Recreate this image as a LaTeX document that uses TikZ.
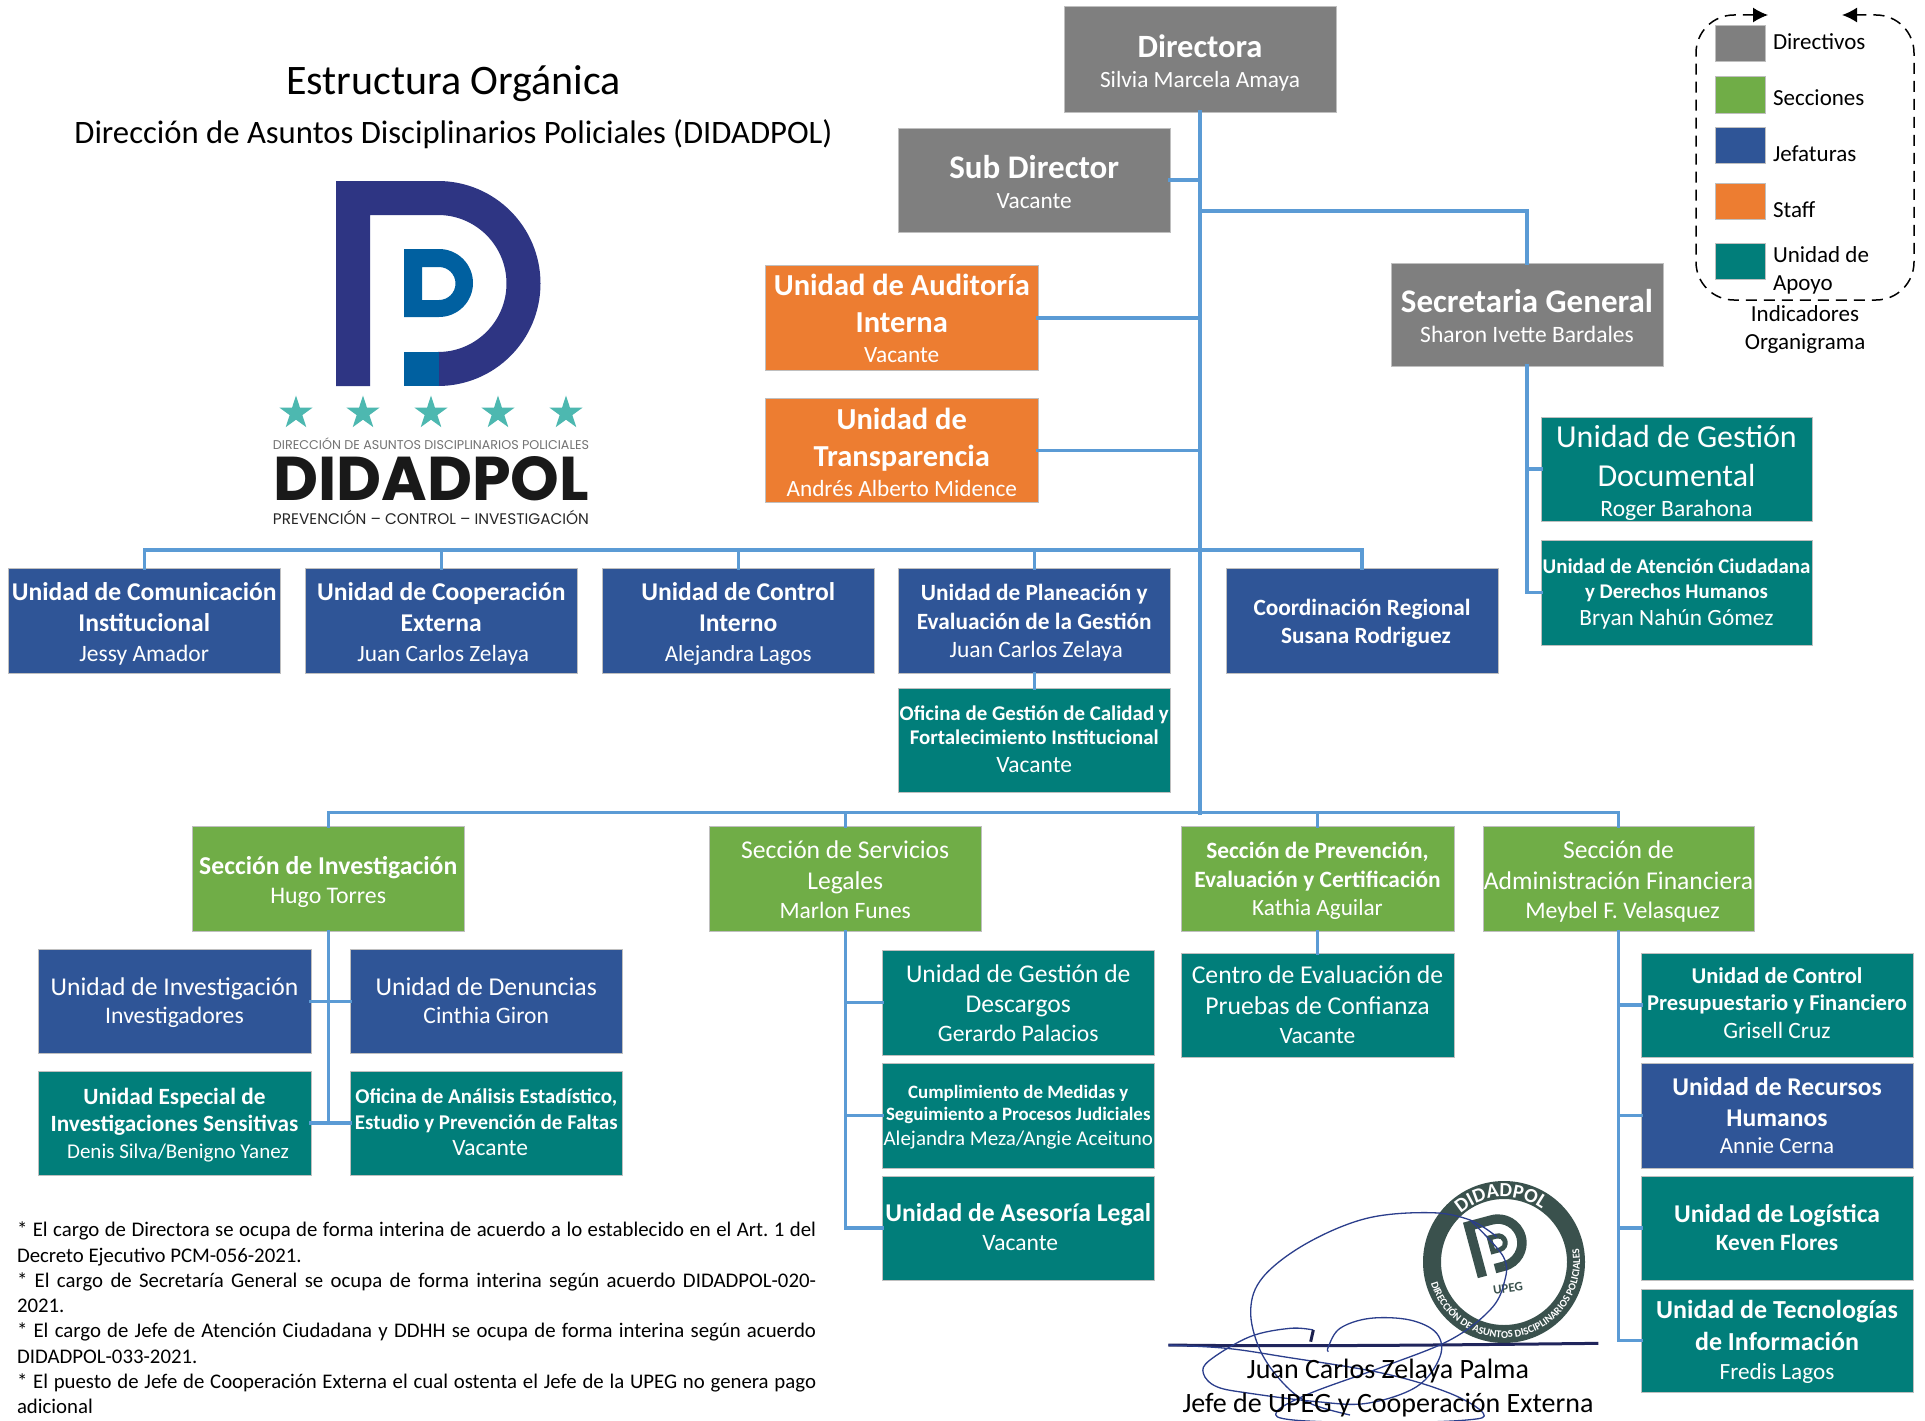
\documentclass[tikz,border=0pt]{standalone}
\usepackage{fontspec}
\usepackage{graphicx}
\usetikzlibrary{arrows.meta,shapes.geometric,decorations.text}
\setmainfont{Carlito}
\newfontfamily\popf{Poppins}
\definecolor{cgray}{HTML}{7F7F7F}
\definecolor{cgreen}{HTML}{70AD47}
\definecolor{cblue}{HTML}{2F5597}
\definecolor{corange}{HTML}{ED7D31}
\definecolor{cteal}{HTML}{017E7A}
\definecolor{cline}{HTML}{5B9BD5}
\definecolor{cnavy}{HTML}{2E3583}
\definecolor{cmid}{HTML}{0060A0}
\definecolor{cstar}{HTML}{4DB8B0}
\definecolor{cstamp}{HTML}{3A514D}
\definecolor{csig}{HTML}{2B3E8C}
\setlength\lineskiplimit{-100pt}
\newcommand\bl[3]{{\fontsize{#1}{#2}\selectfont\bfseries\makebox[0pt]{\rule[-.25em]{0pt}{.75em}#3}\par}}
\newcommand\rl[3]{{\fontsize{#1}{#2}\selectfont\makebox[0pt]{\rule[-.25em]{0pt}{.75em}#3}\par}}
\newcommand\ub[8]{\node[orgbox,fill=#6,minimum width={(#4-#2)*1pt},minimum height={(#5-#3)*1pt}] (#1) at ({(#2+#4)/2},{(#3+#5)/2}) {\raisebox{\dimexpr #7pt-7.3pt\relax}[0pt][0pt]{\parbox[c]{200pt}{\centering #8}}};}
\newcommand\logoP[2]{%
  \fill[#1] (336,181) -- (438,181) arc[start angle=-90,end angle=90,radius=102.5] -- (438,352) arc[start angle=90,end angle=-90,radius=68.5] -- (370,215) -- (370,386) -- (336,386) -- cycle;
  \fill[#2] (404,352) rectangle (439,386);
  \fill[#2,even odd rule] (404,249) -- (439,249) arc[start angle=-90,end angle=90,radius=34] -- (404,317) -- cycle
     (422,267) -- (439,267) arc[start angle=-90,end angle=90,radius=16.5] -- (422,300) -- cycle;}
\tikzset{
  orgbox/.style={draw=black!25,line width=1pt,inner sep=0pt,outer sep=0pt,text=white,rectangle},
  cn/.style={draw=cline,line width=3.5pt,line cap=rect},
  trunk/.style={draw=cline,line width=4.5pt,line cap=rect},
  plain/.style={inner sep=0pt,outer sep=0pt,text=black},
  swatch/.style={draw=black!25,line width=1pt,inner sep=0pt,outer sep=0pt},
  logostar/.style={star,star points=5,star point ratio=2.618,fill=cstar,inner sep=0pt,outer sep=0pt,minimum size=35pt},
  sigline/.style={draw=csig,line width=1.3pt,line join=round}
}
\begin{document}
\begin{tikzpicture}[x=1pt,y=-1pt]
\useasboundingbox (0,0) rectangle (1925,1421);
\fill[white] (0,0) rectangle (1925,1421);
% titles
\node[plain,font=\fontsize{42}{42}\selectfont] (titulo) at (453.5,83.5) {Estructura Orgánica};
\node[plain,font=\fontsize{32.7}{32.7}\selectfont] (sub0) at (453.5,134.5) {Dirección de Asuntos Disciplinarios Policiales (DIDADPOL)};
% logo
\logoP{cnavy}{cmid}
\node[logostar] (s1) at (296,413) {};
\node[logostar] (s2) at (363,413) {};
\node[logostar] (s3) at (431,413) {};
\node[logostar] (s4) at (498,413) {};
\node[logostar] (s5) at (566,413) {};
\node[plain,text=black!55] (lg1) at (431,443.5) {\resizebox{316pt}{!}{\popf DIRECCIÓN DE ASUNTOS DISCIPLINARIOS POLICIALES}};
\node[plain,text=black!90] (lg2) at (431,479) {\resizebox{316pt}{44pt}{\popf\bfseries DIDADPOL}};
\node[plain,text=black!85] (lg3) at (431,517.5) {\resizebox{316pt}{!}{\popf PREVENCIÓN – CONTROL – INVESTIGACIÓN}};
% boxes
\ub{dir}{1064}{7}{1336}{112}{cgray}{0}{\bl{32.5}{33}{Directora}\rl{23.3}{30}{Silvia Marcela Amaya}}
\ub{sub}{898.5}{128}{1170}{232}{cgray}{0}{\bl{33}{33}{Sub Director}\rl{23.3}{30}{Vacante}}
\ub{aud}{765.5}{265.5}{1038}{370}{corange}{1}{\bl{30.5}{37}{Unidad de Auditoría}\bl{30.5}{37}{Interna}\rl{23.3}{29.7}{Vacante}}
\ub{tra}{765.5}{398.5}{1038}{502.5}{corange}{0}{\bl{30.5}{37}{Unidad de}\bl{30.5}{37}{Transparencia}\rl{23.3}{29.7}{Andrés Alberto Midence}}
\ub{sec}{1391}{263}{1663}{366}{cgray}{0}{\bl{33}{33}{Secretaria General}\rl{23.5}{30}{Sharon Ivette Bardales}}
\ub{ugd}{1541}{417}{1812}{521}{cteal}{0}{\rl{32}{39}{Unidad de Gestión}\rl{32}{39}{Documental}\rl{23.5}{29.3}{Roger Barahona}}
\ub{uac}{1541}{540}{1812}{645}{cteal}{2.5}{\bl{20.9}{25.8}{Unidad de Atención Ciudadana}\bl{20.9}{25.8}{y Derechos Humanos}\rl{23.3}{26.6}{Bryan Nahún Gómez}}
\ub{com}{8.5}{568.5}{280}{673.5}{cblue}{.7}{\bl{25.6}{30.7}{Unidad de Comunicación}\bl{25.6}{30.7}{Institucional}\rl{23.5}{30}{Jessy Amador}}
\ub{coo}{305.5}{568.5}{577}{673.5}{cblue}{.7}{\bl{25.6}{30.7}{Unidad de Cooperación}\bl{25.6}{30.7}{Externa}\rl{23.3}{30}{\,Juan Carlos Zelaya}}
\ub{cin}{602.5}{568.5}{874}{673.5}{cblue}{.7}{\bl{25.6}{30.7}{Unidad de Control}\bl{25.6}{30.7}{Interno}\rl{23}{30}{Alejandra Lagos}}
\ub{pla}{898.5}{568.5}{1170}{673.5}{cblue}{2}{\bl{23.3}{28.2}{Unidad de Planeación y}\bl{23.3}{28.2}{Evaluación de la Gestión}\rl{23.5}{28.2}{\,Juan Carlos Zelaya}}
\ub{reg}{1226}{568.5}{1498}{673.5}{cblue}{1.3}{\bl{23.3}{28.2}{Coordinación Regional}\bl{23.3}{28.2}{\,\,Susana Rodriguez}}
\ub{ofi}{898.5}{688}{1170}{792}{cteal}{3}{\bl{20.9}{24.6}{Oficina de Gestión de Calidad y}\bl{20.9}{24.6}{Fortalecimiento Institucional}\rl{23.5}{27.8}{Vacante}}
\ub{sinv}{192.5}{826.5}{464}{931.5}{cgreen}{.7}{\bl{25.7}{29}{Sección de Investigación}\rl{23.8}{28.9}{Hugo Torres}}
\ub{sleg}{709.5}{826.5}{981}{931.5}{cgreen}{1.3}{\rl{25.6}{30.7}{Sección de Servicios}\rl{25.6}{30.7}{Legales}\rl{23.5}{28.8}{Marlon Funes}}
\ub{spre}{1181}{826.5}{1454}{931.5}{cgreen}{2}{\bl{23.4}{28.2}{Sección de Prevención,}\bl{23.4}{28.2}{Evaluación y Certificación}\rl{23.2}{28.2}{Kathia Aguilar}}
\ub{sfin}{1483}{826.5}{1754}{931.5}{cgreen}{1.3}{\rl{25.6}{30.7}{Sección de}\rl{25.6}{30.7}{Administración Financiera}\rl{23.8}{28.9}{\,\,Meybel F. Velasquez}}
\ub{uinv}{38}{949.5}{311}{1053.5}{cblue}{2.5}{\rl{25.6}{28}{Unidad de Investigación}\rl{23.7}{27.6}{Investigadores}}
\ub{den}{350.5}{949.5}{622}{1053.5}{cblue}{2.5}{\rl{25.7}{28}{Unidad de Denuncias}\rl{23.6}{27.6}{Cinthia Giron}}
\ub{esp}{38}{1071}{311}{1175}{cteal}{2}{\bl{23.3}{27}{Unidad Especial de}\bl{23.3}{27}{Investigaciones Sensitivas}\rl{21}{26.3}{\,\,Denis Silva/Benigno Yanez}}
\ub{oae}{350.5}{1071}{622}{1175}{cteal}{3}{\bl{21}{25.8}{Oficina de Análisis Estadístico,}\bl{21}{25.8}{Estudio y Prevención de Faltas}\rl{23.5}{26}{\,\,Vacante}}
\ub{ges}{882.5}{950}{1154}{1055}{cteal}{1.3}{\rl{25.6}{30.7}{Unidad de Gestión de}\rl{25.6}{30.7}{Descargos}\rl{23.6}{28.9}{Gerardo Palacios}}
\ub{cum}{882.5}{1063}{1154}{1168}{cteal}{2}{\bl{18.9}{22}{Cumplimiento de Medidas y}\bl{18.9}{22}{Seguimiento a Procesos Judiciales}\rl{21}{25}{Alejandra Meza/Angie Aceituno}}
\ub{ase}{882.5}{1176}{1154}{1280}{cteal}{2.5}{\bl{25.6}{29}{Unidad de Asesoría Legal}\rl{23.5}{28.8}{\,Vacante}}
\ub{cen}{1181}{953}{1454}{1057}{cteal}{2.5}{\rl{25.7}{30.7}{Centro de Evaluación de}\rl{25.7}{30.7}{Pruebas de Confianza}\rl{23.5}{28.8}{Vacante}}
\ub{cpf}{1641}{953}{1913}{1057}{cteal}{3.7}{\bl{22.6}{27}{Unidad de Control}\bl{22.6}{27}{Presupuestario y Financiero}\rl{23.4}{28}{Grisell Cruz}}
\ub{rec}{1641}{1063}{1913}{1168}{cblue}{2}{\bl{25.6}{30.7}{Unidad de Recursos}\bl{25.6}{30.7}{Humanos}\rl{23}{27.4}{Annie Cerna}}
\ub{log}{1641}{1176}{1913}{1280}{cteal}{2.5}{\bl{25.6}{29}{Unidad de Logística}\bl{23.3}{28.8}{Keven Flores}}
\ub{tec}{1641}{1289}{1913}{1392}{cteal}{2.5}{\bl{26}{32}{Unidad de Tecnologías}\bl{26}{32}{de Información}\rl{23.2}{28.6}{Fredis Lagos}}
% junctions
\coordinate (j1) at (1200,550);
\coordinate (j2) at (1200,812.5);
\coordinate (j3) at (1200,211);
% connectors
\draw[trunk] (dir.south) -- (j2);
\draw[cn] (sub.east) -- (sub.east -| dir.south);
\draw[cn] (aud.east) -- (aud.east -| dir.south);
\draw[cn] (tra.east) -- (tra.east -| dir.south);
\draw[cn] (j3) -| (sec.north);
\draw[cn] (sec.south) |- (uac.west);
\draw[cn] (sec.south |- ugd.west) -- (ugd.west);
\draw[cn] (com.north) |- (j1);
\draw[cn] (coo.north) |- (j1);
\draw[cn] (cin.north) |- (j1);
\draw[cn] (pla.north) |- (j1);
\draw[cn] (reg.north) |- (j1);
\draw[cn] (pla.south) -- (ofi.north);
\draw[cn] (sinv.north) |- (j2);
\draw[cn] (sleg.north) |- (j2);
\draw[cn] (spre.north) |- (j2);
\draw[cn] (sfin.north) |- (j2);
\draw[cn] (sinv.south) -- (sinv.south |- oae.west);
\draw[cn] (uinv.east) -- (den.west);
\draw[cn] (esp.east) -- (oae.west);
\draw[cn] (sleg.south) |- (ase.west);
\draw[cn] (sleg.south |- ges.west) -- (ges.west);
\draw[cn] (sleg.south |- cum.west) -- (cum.west);
\draw[cn] (spre.south) -- (cen.north);
\draw[cn] (sfin.south) |- (tec.west);
\draw[cn] (sfin.south |- cpf.west) -- (cpf.west);
\draw[cn] (sfin.south |- rec.west) -- (rec.west);
\draw[cn] (sfin.south |- log.west) -- (log.west);
% legend
\draw[black,line width=1.5pt,dashed,dash pattern=on 11pt off 7pt,rounded corners=38pt,{Latex[length=15pt,width=15pt]}-{Latex[length=15pt,width=15pt]}] (1768,15) -- (1696,15) -- (1696,300) -- (1914,300) -- (1914,15) -- (1842,15);
\node[swatch,fill=cgray,minimum width=50pt,minimum height=36pt] (k1) at (1740.5,44) {};
\node[swatch,fill=cgreen,minimum width=50pt,minimum height=36pt] (k2) at (1740.5,95) {};
\node[swatch,fill=cblue,minimum width=50pt,minimum height=36pt] (k3) at (1740.5,145.5) {};
\node[swatch,fill=corange,minimum width=50pt,minimum height=36pt] (k4) at (1740.5,201.5) {};
\node[swatch,fill=cteal,minimum width=50pt,minimum height=36pt] (k5) at (1740.5,261.5) {};
\tikzset{legtxt/.style={plain,anchor=west,font=\fontsize{23}{23}\selectfont}}
\node[legtxt] (t1) at (1773,42) {Directivos};
\node[legtxt] (t2) at (1773,98) {Secciones};
\node[legtxt] (t3) at (1773,154) {Jefaturas};
\node[legtxt] (t4) at (1773,210) {Staff};
\node[legtxt] (t5) at (1773,255) {Unidad de};
\node[legtxt] (t6) at (1773,285) {Apoyo};
\node[plain,font=\fontsize{23}{23}\selectfont] (t7) at (1805,314) {Indicadores};
\node[plain,font=\fontsize{23}{23}\selectfont] (t8) at (1805,344) {Organigrama};
% notes
\node[plain,anchor=north west,text width=799pt,align=justify,font=\fontsize{20.8}{25.3}\selectfont\frenchspacing] (notes) at (17,1222) {* El cargo de Directora se ocupa de forma interina de acuerdo a lo establecido en el Art. 1 del\linebreak Decreto Ejecutivo PCM-056-2021.\par
* El cargo de Secretaría General se ocupa de forma interina según acuerdo DIDADPOL-020-\linebreak 2021.\par
* El cargo de Jefe de Atención Ciudadana y DDHH se ocupa de forma interina según acuerdo\linebreak DIDADPOL-033-2021.\par
* El puesto de Jefe de Cooperación Externa el cual ostenta el Jefe de la UPEG no genera pago\linebreak adicional\par};
% stamp
\begin{scope}[shift={(1504,1262)},y=1pt]
\draw[cstamp,line width=18pt] (0,0) circle[radius=72];
\path[decorate,decoration={text along path,text align=center,text={|\bfseries\fontsize{10.5}{10.5}\selectfont\color{white}|DIRECCIÓN DE ASUNTOS DISCIPLINARIOS POLICIALES}}] (178:76) arc[start angle=178,end angle=388,radius=76];
\path[decorate,decoration={text along path,text align=center,text={|\bfseries\fontsize{20}{20}\selectfont\color{white}|DIDADPOL}}] (148:65) arc[start angle=148,end angle=38,radius=65];
\node[plain,text=cstamp,rotate=8,font=\bfseries\fontsize{13}{13}\selectfont] (upeg) at (4,-26) {UPEG};
\end{scope}
\begin{scope}[shift={(1498,1243)},rotate=15,scale=.28,shift={(-438,-283.5)}]
\logoP{cstamp}{cstamp}
\end{scope}
% signature
\begin{scope}[shift={(1150,1170)},scale=1/3]
\draw[cnavy!70!black,line width=3pt] (55,525) .. controls (400,530) and (900,525) .. (1345,520);
\draw[sigline] plot[smooth,tension=.6] coordinates {(1040,200) (960,150) (840,128) (650,145) (470,220) (340,320) (302,420) (330,540) (400,640) (480,700) (600,735)};
\draw[sigline] plot[smooth,tension=.6] coordinates {(960,150) (1060,260) (1062,340) (1020,420) (900,510) (700,590) (480,670) (380,725) (430,750) (700,758) (950,750) (1000,730) (900,670) (700,610) (400,560) (230,535) (55,525)};
\draw[sigline] plot[smooth,tension=.6] coordinates {(490,480) (420,475) (300,500) (180,570) (160,610) (200,650) (300,670) (500,695) (650,700) (800,650) (870,560) (860,490) (780,450) (660,445) (570,475) (535,530) (535,545)};
\draw[cnavy!60!black,line width=3pt] (490,480) -- (482,515);
\end{scope}
\node[plain,font=\fontsize{28}{28}\selectfont] (firma1) at (1388,1371) {Juan Carlos Zelaya Palma};
\node[plain,font=\fontsize{28}{28}\selectfont] (firma2) at (1388,1405) {Jefe de UPEG y Cooperación Externa};
\end{tikzpicture}
\end{document}
